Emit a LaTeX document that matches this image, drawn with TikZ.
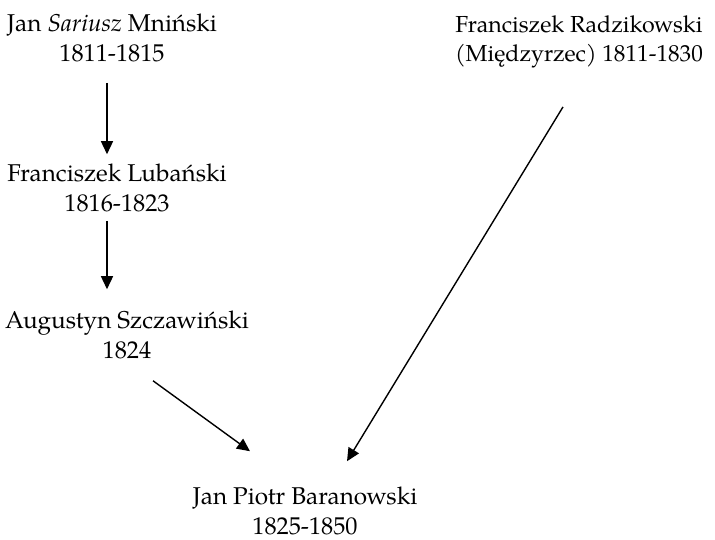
\documentclass[tikz,border=0pt]{standalone}
\usepackage{fontspec}
\setmainfont{TeX Gyre Pagella}
\usetikzlibrary{arrows.meta}

\begin{document}
\begin{tikzpicture}[x=1pt,y=-1pt,->,>={Triangle[length=13pt,width=12pt]},line width=1.4pt,main node/.style={align=center,inner sep=0pt,font=\fontsize{24.3}{30}\selectfont}]
		\useasboundingbox (0,0) rectangle (715,540);
		
		\node[main node] (1) at (112,38) {Jan \textit{Sariusz} Mniński\\1811-1815};
		\node[main node] (2) at (117,188) {Franciszek Lubański\\1816-1823};
		\node[main node] (3) at (127,335) {Augustyn Szczawiński\\1824};
		\node[main node,font=\fontsize{23.2}{29}\selectfont] (4) at (579,42) {Franciszek Radzikowski\\(Międzyrzec) 1811-1830};
		\node[main node] (5) at (305,511) {Jan Piotr Baranowski\\1825-1850};
		
		\path
		([xshift=-5pt,yshift=-20pt]1.south) edge ([xshift=-10pt,yshift=9pt]2.north)
		([xshift=-10pt,yshift=-8pt]2.south) edge ([xshift=-20pt,yshift=21pt]3.north)
		([xshift=26pt,yshift=-21pt]3.south) edge ([xshift=-55pt,yshift=35pt]5.north)
		([xshift=-16pt,yshift=-38pt]4.south) edge ([xshift=42pt,yshift=25pt]5.north);
	\end{tikzpicture}
\end{document}
